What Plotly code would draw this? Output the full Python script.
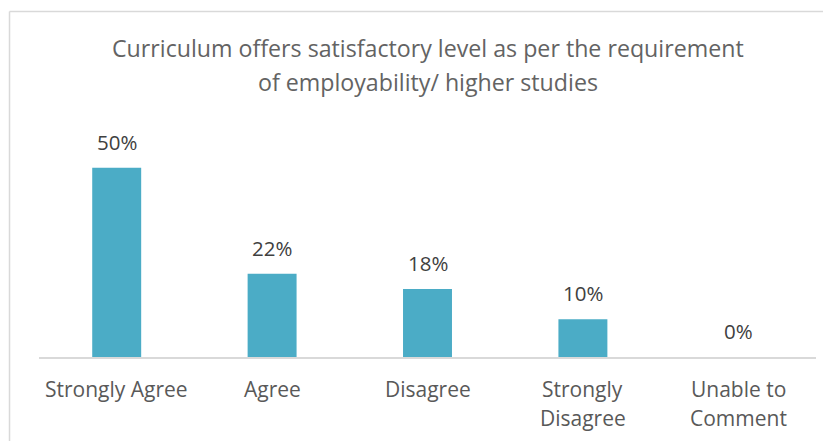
import plotly.graph_objects as go

categories = ["Strongly Agree", "Agree", "Disagree", "Strongly Disagree", "Unable to Comment"]
tick_lines = [["Strongly Agree"], ["Agree"], ["Disagree"], ["Strongly", "Disagree"], ["Unable to", "Comment"]]
values = [50, 22, 18, 10, 0]
labels = [f"{v}%" for v in values]
title_lines = ["Curriculum offers satisfactory level as per the requirement",
               "of employability/ higher studies"]

FONT = "Open Sans"
GREY = "#595959"
DARK = "#404040"

fig = go.Figure(go.Bar(
    x=categories, y=values,
    marker=dict(color="#4BACC6", line=dict(width=0)),
    cliponaxis=False, hoverinfo="skip",
))

# page body has an 8px margin; figure positioned to compensate
W, H = 831, 441
left, plot_right, top, base = 31, 808.5, 122, 349
plot_h = base - top

annotations = []
for cat, lines in zip(categories, tick_lines):
    for i, ln in enumerate(lines):
        annotations.append(dict(x=cat, y=0, xref="x", yref="y", text=ln, showarrow=False,
                                yanchor="middle", yshift=-32 - 29 * i,
                                font=dict(family=FONT, size=21, color=GREY)))
for cat, v, lab in zip(categories, values, labels):
    annotations.append(dict(x=cat, y=v, xref="x", yref="y", text=lab, showarrow=False,
                            yanchor="middle", yshift=26,
                            font=dict(family=FONT, size=20.5, color=DARK)))
for i, ln in enumerate(title_lines):
    annotations.append(dict(x=0.5, y=1, xref="paper", yref="paper", text=ln, showarrow=False,
                            yanchor="middle", yshift=82 - 34 * i,
                            font=dict(family=FONT, size=23.2, color="#636363")))

pw = plot_right - left
fig.update_layout(
    width=W, height=H,
    margin=dict(l=left, r=W - plot_right, t=top, b=H - base, pad=0),
    paper_bgcolor="white", plot_bgcolor="white",
    bargap=0.685,
    showlegend=False,
    xaxis=dict(showticklabels=False, showline=True, linecolor="#D9D9D9", linewidth=1.5,
               showgrid=False, zeroline=False, ticks=""),
    yaxis=dict(range=[0, 60], visible=False, showgrid=False, zeroline=False),
    annotations=annotations,
    shapes=[
        dict(type="line", xref="paper", yref="paper",
             x0=(1.5 - left) / pw, x1=(1.5 - left) / pw,
             y0=(base - 600) / plot_h, y1=(base - 3.5) / plot_h,
             line=dict(color="#D9D9D9", width=1.5), layer="below"),
        dict(type="line", xref="paper", yref="paper",
             x0=(1.5 - left) / pw, x1=(1200 - left) / pw,
             y0=(base - 3.5) / plot_h, y1=(base - 3.5) / plot_h,
             line=dict(color="#D9D9D9", width=1.5), layer="below"),
    ],
)

fig.write_html("out.html", post_script="document.body.style.overflow='hidden';")
